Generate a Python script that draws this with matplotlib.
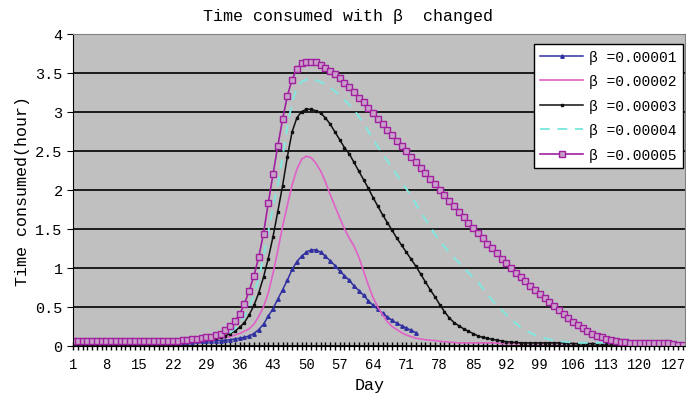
import numpy as np
import matplotlib
matplotlib.use("Agg")
import matplotlib.pyplot as plt

# values, one per day (day 1..129)
days = list(range(1, 130))

beta1 = ([0.045] * 20 +
         [0.045, 0.05, 0.05, 0.05, 0.055, 0.055, 0.06, 0.06, 0.065, 0.065,
          0.07, 0.07, 0.075, 0.08, 0.09, 0.10, 0.11, 0.13, 0.16, 0.21,
          0.28, 0.38, 0.48, 0.60, 0.72, 0.84, 0.98, 1.08, 1.15, 1.20,
          1.23, 1.23, 1.20, 1.15, 1.09, 1.03, 0.96, 0.90, 0.84, 0.77,
          0.71, 0.65, 0.58, 0.52, 0.47, 0.42, 0.37, 0.33, 0.29, 0.26,
          0.23, 0.20, 0.17] +
         [None] * 56)

beta2 = ([0.05] * 20 +
         [0.05, 0.055, 0.06, 0.06, 0.065, 0.07, 0.075, 0.08, 0.085, 0.09,
          0.095, 0.10, 0.11, 0.12, 0.14, 0.16, 0.19, 0.22, 0.28, 0.38,
          0.50, 0.68, 0.93, 1.22, 1.53, 1.80, 2.06, 2.26, 2.39, 2.43,
          2.41, 2.34, 2.24, 2.10, 1.94, 1.79, 1.64, 1.50, 1.38, 1.28,
          1.14, 0.96, 0.78, 0.62, 0.50, 0.40, 0.31, 0.25, 0.21, 0.17,
          0.14, 0.12, 0.10, 0.09, 0.08, 0.075, 0.07, 0.06, 0.055, 0.05,
          0.045] +
         [0.04] * 9 + [0.03] * 39)

beta3 = ([0.05] * 20 +
         [0.055, 0.06, 0.06, 0.065, 0.07, 0.075, 0.08, 0.085, 0.09, 0.095,
          0.10, 0.12, 0.13, 0.16, 0.19, 0.24, 0.30, 0.40, 0.52, 0.68,
          0.88, 1.12, 1.40, 1.72, 2.05, 2.42, 2.74, 2.92, 3.00, 3.03,
          3.03, 3.01, 2.98, 2.92, 2.84, 2.74, 2.64, 2.54, 2.46, 2.35,
          2.24, 2.13, 2.02, 1.90, 1.79, 1.68, 1.58, 1.48, 1.38, 1.29,
          1.20, 1.11, 1.02, 0.92, 0.82, 0.72, 0.63, 0.53, 0.44, 0.36,
          0.30, 0.26, 0.22, 0.19, 0.16, 0.13, 0.11, 0.10, 0.085, 0.075,
          0.065, 0.055, 0.05, 0.045] +
         [0.04] * 11 + [0.03] * 24)

beta4 = ([0.05] * 20 +
         [0.055, 0.06, 0.065, 0.07, 0.075, 0.08, 0.085, 0.09, 0.095, 0.10,
          0.11, 0.12, 0.14, 0.17, 0.22, 0.29, 0.38, 0.50, 0.66, 0.87,
          1.14, 1.46, 1.78, 2.05, 2.42, 2.80, 3.12, 3.31, 3.38, 3.41,
          3.42, 3.40, 3.38, 3.35, 3.31, 3.26, 3.21, 3.15, 3.09, 3.02,
          2.94, 2.85, 2.75, 2.65, 2.55, 2.46, 2.37, 2.28, 2.19, 2.10,
          2.01, 1.92, 1.82, 1.72, 1.62, 1.52, 1.43, 1.35, 1.27, 1.20,
          1.13, 1.07, 1.00, 0.94, 0.88, 0.82, 0.74, 0.66, 0.59, 0.52,
          0.46, 0.40, 0.34, 0.29, 0.24, 0.20, 0.17, 0.14, 0.12, 0.10,
          0.085, 0.07, 0.06, 0.055, 0.05] +
         [0.04] * 24)

beta5 = ([0.06] * 20 +
         [0.065, 0.07, 0.07, 0.075, 0.08, 0.085, 0.09, 0.10, 0.11, 0.12,
          0.14, 0.16, 0.20, 0.25, 0.32, 0.41, 0.54, 0.71, 0.90, 1.14,
          1.44, 1.83, 2.20, 2.56, 2.90, 3.20, 3.41, 3.55, 3.62, 3.64,
          3.64, 3.63, 3.60, 3.56, 3.52, 3.48, 3.43, 3.37, 3.31, 3.25,
          3.18, 3.12, 3.05, 2.98, 2.91, 2.84, 2.77, 2.70, 2.63, 2.56,
          2.49, 2.42, 2.35, 2.28, 2.21, 2.14, 2.07, 2.00, 1.93, 1.86,
          1.79, 1.72, 1.65, 1.58, 1.51, 1.45, 1.38, 1.31, 1.25, 1.19,
          1.12, 1.06, 1.00, 0.94, 0.88, 0.83, 0.77, 0.72, 0.66, 0.61,
          0.56, 0.51, 0.46, 0.41, 0.36, 0.31, 0.27, 0.23, 0.19, 0.16,
          0.13, 0.11, 0.09, 0.075, 0.06, 0.05, 0.045, 0.04, 0.04, 0.04,
          0.04, 0.04, 0.04, 0.04, 0.04, 0.04, 0.02, 0.01, 0.01])

labels = ["β =0.00001", "β =0.00002", "β =0.00003", "β =0.00004", "β =0.00005"]
xtick_days = list(range(1, 130, 7))
ytick_vals = [0, 0.5, 1, 1.5, 2, 2.5, 3, 3.5, 4]
ytick_text = ["0", "0.5", "1", "1.5", "2", "2.5", "3", "3.5", "4"]

plt.rcParams['font.family'] = ['Liberation Mono', 'DejaVu Sans']

fig = plt.figure(figsize=(6.86, 4.06), dpi=100)
ax = fig.add_axes([73 / 686, 1 - 347 / 406, 612 / 686, 312.5 / 406])
ax.set_facecolor("#c0c0c0")


def series(v):
    return np.array([np.nan if a is None else a for a in v], dtype=float)


ax.plot(days, series(beta1), color="#3030a0", lw=1.1, marker="^", ms=2.5,
        label=labels[0])
ax.plot(days, series(beta2), color="#e060c8", lw=1.2, label=labels[1])
ax.plot(days, series(beta3), color="#101010", lw=1.1, marker="s", ms=1.8,
        label=labels[2])
ax.plot(days, series(beta4), color="#80e8e0", lw=1.4, ls=(0, (5, 4)),
        label=labels[3])
ax.plot(days, series(beta5), color="#a020a0", lw=1.2, marker="s", ms=4,
        mfc="#c8a0c8", mew=1.0, label=labels[4])

ax.set_xlim(1, 129.5)
ax.set_ylim(0, 4)
ax.set_yticks(ytick_vals)
ax.set_yticklabels(ytick_text)
ax.set_xticks(xtick_days)
ax.set_xticks(days, minor=True)
ax.tick_params(axis="x", which="both", direction="inout", length=6,
               width=1, labelsize=10, pad=5)
ax.tick_params(axis="y", direction="out", length=4, labelsize=11)
ax.grid(axis="y", color="black", lw=1.2)
ax.set_axisbelow(True)
for s in ["top", "right"]:
    ax.spines[s].set_color("#808080")
for s in ["left", "bottom"]:
    ax.spines[s].set_color("black")

ax.set_title("Time consumed with β  changed", fontsize=12, pad=10, x=0.449)
ax.set_xlabel("Day", fontsize=12, labelpad=4, x=0.485)
ax.set_ylabel("Time consumed(hour)", fontsize=12, labelpad=4)

leg = ax.legend(loc="upper left", bbox_to_anchor=(0.753, 0.966),
                borderaxespad=0, fancybox=False, framealpha=1,
                edgecolor="black", fontsize=10.5, handlelength=3.0,
                handletextpad=0.4, labelspacing=0.72, borderpad=0.4)
leg.get_frame().set_linewidth(1.0)

fig.savefig("out.png", dpi=100)
